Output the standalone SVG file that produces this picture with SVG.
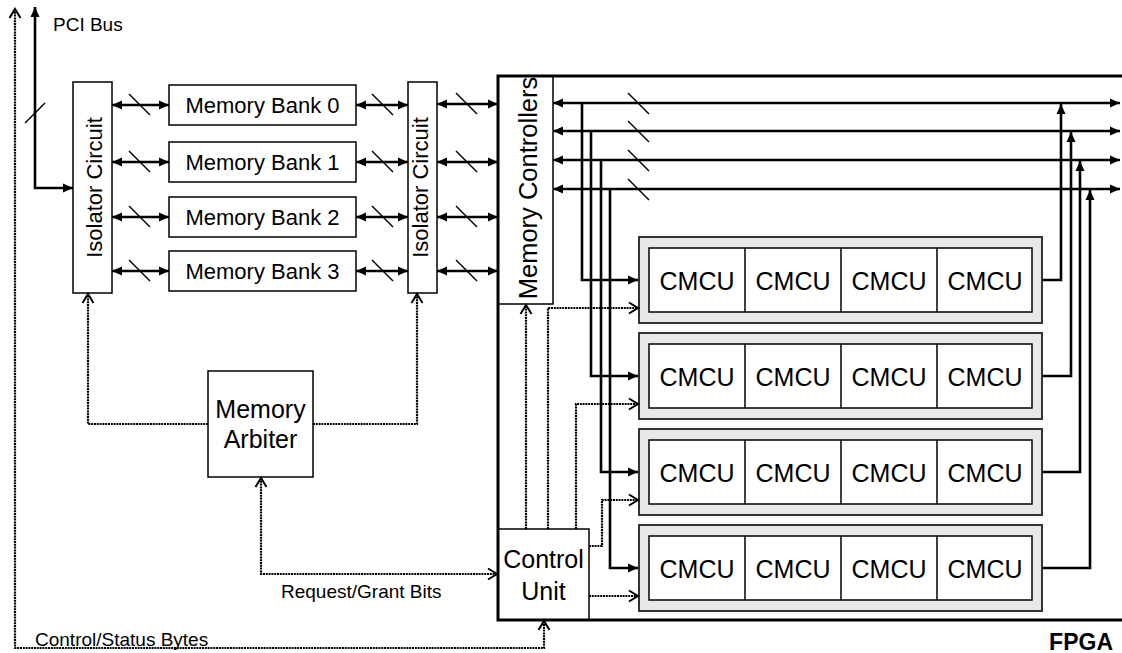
<svg xmlns="http://www.w3.org/2000/svg" width="1122" height="653" viewBox="0 0 1122 653">
<defs>
<style>
text{font-family:"Liberation Sans",Arial,sans-serif;fill:#000}
.box{fill:#fff;stroke:#000;stroke-width:1.5}
.row{fill:#e8e8e8;stroke:#333;stroke-width:2}
.cell{fill:#fff;stroke:#000;stroke-width:1.5}
.bus{fill:none;stroke:#000;stroke-width:2.6}
.dot{fill:none;stroke:#000;stroke-width:2.2;stroke-dasharray:2 0.8}
.sl{stroke:#000;stroke-width:1.4}
.fa2{marker-start:url(#fa);marker-end:url(#fa)}
.fa1{marker-end:url(#fa)}
.oa1{marker-end:url(#oa)}
.oa2{marker-start:url(#oa);marker-end:url(#oa)}
.cm{font-size:25px;text-anchor:middle}
</style>
<marker id="fa" markerUnits="userSpaceOnUse" markerWidth="11" markerHeight="10" refX="10" refY="4.5" orient="auto-start-reverse" overflow="visible"><path d="M0,0 L10,4.5 L0,9 z" fill="#000"/></marker>
<marker id="oa" markerUnits="userSpaceOnUse" markerWidth="11" markerHeight="11" refX="9" refY="5.5" orient="auto-start-reverse" overflow="visible"><path d="M0,0 L9,5.5 L0,11" fill="none" stroke="#000" stroke-width="2"/></marker>
</defs>
<rect width="1122" height="653" fill="#fff"/>

<g id="label-pci"><text x="53" y="31" font-size="19">PCI Bus</text></g>

<g id="isolator-left"><rect class="box" x="73" y="82" width="39" height="211"/><text transform="translate(102,187.5) rotate(-90)" font-size="22" text-anchor="middle">Isolator Circuit</text></g>
<g id="isolator-right"><rect class="box" x="408" y="82" width="29" height="211"/><text transform="translate(428,187.5) rotate(-90)" font-size="22" text-anchor="middle">Isolator Circuit</text></g>

<g id="bank0"><rect class="box" x="169" y="85" width="187" height="40"/><text x="262.5" y="113" font-size="22" text-anchor="middle">Memory Bank 0</text></g>
<g id="bank1"><rect class="box" x="169" y="142" width="187" height="40"/><text x="262.5" y="170" font-size="22" text-anchor="middle">Memory Bank 1</text></g>
<g id="bank2"><rect class="box" x="169" y="197" width="187" height="40"/><text x="262.5" y="225" font-size="22" text-anchor="middle">Memory Bank 2</text></g>
<g id="bank3"><rect class="box" x="169" y="251" width="187" height="40"/><text x="262.5" y="279" font-size="22" text-anchor="middle">Memory Bank 3</text></g>

<g id="arbiter"><rect class="box" x="208" y="371" width="105" height="106"/><text x="260.5" y="418" font-size="25" text-anchor="middle">Memory</text><text x="260.5" y="448" font-size="25" text-anchor="middle">Arbiter</text></g>

<g id="mem-controllers"><rect class="box" x="498" y="76" width="55" height="228"/><text transform="translate(537,188) rotate(-90)" font-size="25.5" text-anchor="middle">Memory Controllers</text></g>

<g id="control-unit"><rect class="box" x="498" y="529" width="91" height="91"/><text x="543.5" y="568" font-size="25" text-anchor="middle">Control</text><text x="543.5" y="600" font-size="25" text-anchor="middle">Unit</text></g>

<g id="row0"><rect class="row" x="639" y="237" width="403" height="86"/><rect class="cell" x="649" y="248" width="383" height="64"/><path d="M745,248V312M841,248V312M937,248V312" stroke="#000" stroke-width="1.5"/>
<text class="cm" x="697" y="290">CMCU</text><text class="cm" x="793" y="290">CMCU</text><text class="cm" x="889" y="290">CMCU</text><text class="cm" x="985" y="290">CMCU</text></g>
<g id="row1"><rect class="row" x="639" y="333" width="403" height="86"/><rect class="cell" x="649" y="344" width="383" height="64"/><path d="M745,344V408M841,344V408M937,344V408" stroke="#000" stroke-width="1.5"/>
<text class="cm" x="697" y="386">CMCU</text><text class="cm" x="793" y="386">CMCU</text><text class="cm" x="889" y="386">CMCU</text><text class="cm" x="985" y="386">CMCU</text></g>
<g id="row2"><rect class="row" x="639" y="429" width="403" height="86"/><rect class="cell" x="649" y="440" width="383" height="64"/><path d="M745,440V504M841,440V504M937,440V504" stroke="#000" stroke-width="1.5"/>
<text class="cm" x="697" y="482">CMCU</text><text class="cm" x="793" y="482">CMCU</text><text class="cm" x="889" y="482">CMCU</text><text class="cm" x="985" y="482">CMCU</text></g>
<g id="row3"><rect class="row" x="639" y="525" width="403" height="86"/><rect class="cell" x="649" y="536" width="383" height="64"/><path d="M745,536V600M841,536V600M937,536V600" stroke="#000" stroke-width="1.5"/>
<text class="cm" x="697" y="578">CMCU</text><text class="cm" x="793" y="578">CMCU</text><text class="cm" x="889" y="578">CMCU</text><text class="cm" x="985" y="578">CMCU</text></g>

<g id="fpga"><path d="M1122,76H498V620H1122" fill="none" stroke="#000" stroke-width="3"/><text x="1113" y="650" font-size="23" font-weight="bold" text-anchor="end">FPGA</text></g>

<g id="connectors">
<path class="bus fa2" d="M35,7V188H73"/>
<line class="sl" x1="25" y1="123" x2="45" y2="103"/>
<path class="bus fa2" d="M112,105H169"/>
<path class="bus fa2" d="M112,162H169"/>
<path class="bus fa2" d="M112,217H169"/>
<path class="bus fa2" d="M112,271H169"/>
<path class="bus fa2" d="M356,105H408"/>
<path class="bus fa2" d="M356,162H408"/>
<path class="bus fa2" d="M356,217H408"/>
<path class="bus fa2" d="M356,271H408"/>
<path class="bus fa2" d="M437,104H498"/>
<path class="bus fa2" d="M437,162H498"/>
<path class="bus fa2" d="M437,217H498"/>
<path class="bus fa2" d="M437,271H498"/>
<g class="sl">
<line x1="129" y1="94" x2="150" y2="115"/><line x1="129" y1="151" x2="150" y2="172"/><line x1="129" y1="206" x2="150" y2="227"/><line x1="129" y1="260" x2="150" y2="281"/>
<line x1="372" y1="94" x2="393" y2="115"/><line x1="372" y1="151" x2="393" y2="172"/><line x1="372" y1="206" x2="393" y2="227"/><line x1="372" y1="260" x2="393" y2="281"/>
<line x1="456" y1="93" x2="477" y2="114"/><line x1="456" y1="151" x2="477" y2="172"/><line x1="456" y1="206" x2="477" y2="227"/><line x1="456" y1="260" x2="477" y2="281"/>
<line x1="628" y1="93" x2="649" y2="114"/><line x1="628" y1="121" x2="649" y2="142"/><line x1="628" y1="150" x2="649" y2="171"/><line x1="628" y1="179" x2="649" y2="200"/>
</g>
<path class="bus fa2" d="M553,103H1120"/>
<path class="bus fa2" d="M553,131H1120"/>
<path class="bus fa2" d="M553,160H1120"/>
<path class="bus fa2" d="M553,189H1120"/>
<path class="bus fa1" d="M582,103V280H638"/>
<path class="bus fa1" d="M591,131V376H638"/>
<path class="bus fa1" d="M601,160V472H638"/>
<path class="bus fa1" d="M610,189V568H638"/>
<path class="bus fa1" d="M1042,280H1061V104"/>
<path class="bus fa1" d="M1042,376H1071V132"/>
<path class="bus fa1" d="M1042,472H1080V161"/>
<path class="bus fa1" d="M1042,568H1090V190"/>
<path class="dot oa2" d="M15,9V648H544V621"/>
<path class="dot oa1" d="M208,424H88V294"/>
<path class="dot oa1" d="M313,424H417V294"/>
<path class="dot oa2" d="M261,478V574H497"/>
<path class="dot oa1" d="M526,529V305"/>
<path class="dot oa1" d="M548,529V308H638"/>
<path class="dot oa1" d="M576,529V404H638"/>
<path class="dot oa1" d="M589,546H602V500H638"/>
<path class="dot oa1" d="M589,596H638"/>
</g>
<g id="labels">
<text x="281" y="598" font-size="19">Request/Grant Bits</text>
<text x="35" y="646" font-size="19">Control/Status Bytes</text>
</g>
</svg>
